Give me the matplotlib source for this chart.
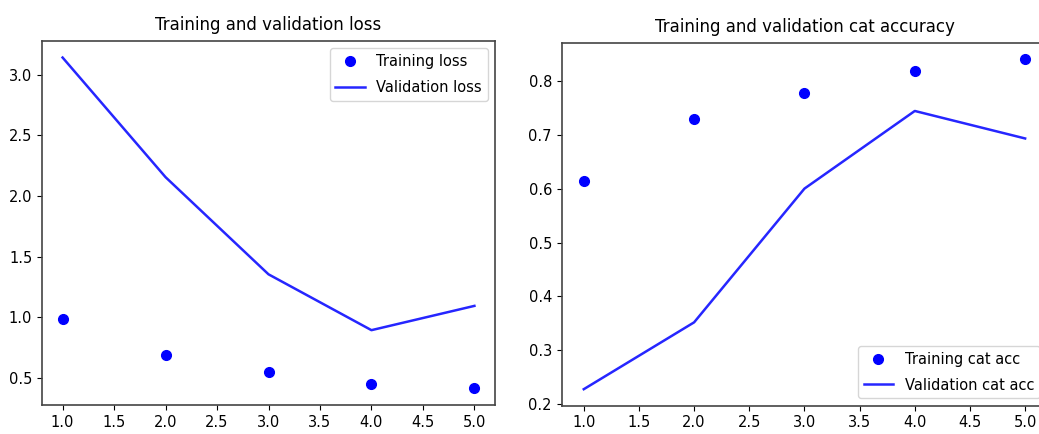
import matplotlib
matplotlib.use("Agg")
import matplotlib.pyplot as plt

epochs = [1, 2, 3, 4, 5]
train_loss = [0.99, 0.69, 0.55, 0.455, 0.415]
val_loss = [3.14, 2.155, 1.355, 0.895, 1.095]
train_acc = [0.614, 0.729, 0.778, 0.819, 0.840]
val_acc = [0.228, 0.352, 0.600, 0.744, 0.693]

plt.rcParams['font.family'] = ['DejaVu Sans']
W, H = 1039, 434
fig = plt.figure(figsize=(W / 100, H / 100), dpi=100)

ax1 = fig.add_axes([42 / W, 1 - 405 / H, 453 / W, 364 / H])
ax1.plot(epochs, train_loss, 'bo', label='Training loss', markersize=7)
ax1.plot(epochs, val_loss, 'b', label='Validation loss', linewidth=1.8, alpha=0.85)
ax1.set_title('Training and validation loss', fontsize=12, pad=8)
ax1.legend(loc='upper right', fontsize=10.5, labelspacing=0.75)
ax1.tick_params(labelsize=10.5)

ax2 = fig.add_axes([561.7 / W, 1 - 405.7 / H, 485.5 / W, 363 / H])
ax2.plot(epochs, train_acc, 'bo', label='Training cat acc', markersize=7)
ax2.plot(epochs, val_acc, 'b', label='Validation cat acc', linewidth=1.8, alpha=0.85)
ax2.set_title('Training and validation cat accuracy', fontsize=12, pad=8)
ax2.legend(loc='lower right', fontsize=10.5, labelspacing=0.75)
ax2.tick_params(labelsize=10.5)

for ax in (ax1, ax2):
    for s in ax.spines.values():
        s.set_color('#444444')
        s.set_linewidth(1.2)

fig.savefig('out.png', dpi=100)
